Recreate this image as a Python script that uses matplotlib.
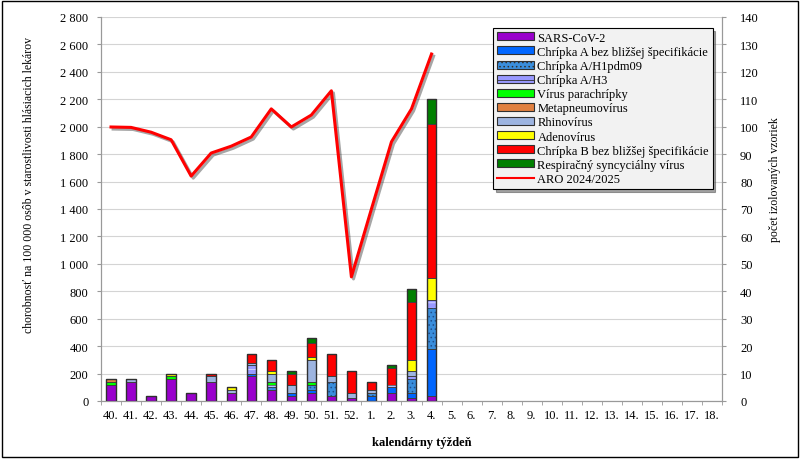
import numpy as np
import matplotlib
matplotlib.use("Agg")
import matplotlib.pyplot as plt
import matplotlib.patheffects as pe
from matplotlib.patches import Patch, Rectangle
from matplotlib.lines import Line2D

plt.rcParams["font.family"] = ["Liberation Serif", "DejaVu Serif"]
plt.rcParams["hatch.linewidth"] = 0.6

# -------------------------
# Data
# -------------------------
weeks = ["40.", "41.", "42.", "43.", "44.", "45.", "46.", "47.", "48.", "49.",
         "50.", "51.", "52.", "1.", "2.", "3.", "4.", "5.", "6.", "7.", "8.",
         "9.", "10.", "11.", "12.", "13.", "14.", "15.", "16.", "17.", "18."]

# ARO 2024/2025 morbidity per 100 000 (left axis), weeks 40. - 4.
aro = [1998, 1995, 1960, 1905, 1640, 1808, 1858, 1925, 2130, 1998,
       2085, 2262, 905, 1400, 1890, 2130, 2530]

# isolated samples per virus (right axis), weeks 40. - 4.
sars = [6, 7, 2, 8, 3, 7, 3, 9, 4, 2, 3, 2, 1, 0, 3, 1, 2]
flu_a = [0, 0, 0, 0, 0, 0, 0, 1, 0, 1, 1, 0, 0, 2, 2, 2, 17]
flu_h1 = [0, 0, 0, 0, 0, 0, 0, 0, 1, 0, 2, 5, 0, 1, 0, 5, 15]
flu_h3 = [0, 0, 0, 0, 0, 0, 0, 3, 1, 0, 0, 0, 0, 0, 1, 1, 3]
parainfl = [1, 0, 0, 1, 0, 0, 0, 0, 1, 0, 1, 0, 0, 0, 0, 0, 0]
metapneumo = [1, 0, 0, 0, 0, 0, 0, 0, 0, 0, 0, 0, 0, 0, 0, 0, 0]
rhino = [0, 1, 0, 0, 0, 2, 1, 1, 3, 3, 8, 2, 2, 1, 0, 2, 0]
adeno = [0, 0, 0, 1, 0, 0, 1, 0, 1, 0, 1, 0, 0, 0, 0, 4, 8]
flu_b = [0, 0, 0, 0, 0, 1, 0, 3, 4, 4, 5, 8, 8, 3, 6, 21, 56]
rsv = [0, 0, 0, 0, 0, 0, 0, 0, 0, 1, 2, 0, 0, 0, 1, 5, 9]

series = [
    ("SARS-CoV-2", sars, "#9900CC", None, None),
    ("Chrípka A bez bližšej špecifikácie", flu_a, "#0066FF", None, None),
    ("Chrípka A/H1pdm09", flu_h1, "#3A8EDC", "....", "#1F4E8C"),
    ("Chrípka A/H3", flu_h3, "#9999FF", "---", "#D8D8FF"),
    ("Vírus parachrípky", parainfl, "#00FF00", None, None),
    ("Metapneumovírus", metapneumo, "#E08040", None, None),
    ("Rhinovírus", rhino, "#9DB4E0", None, None),
    ("Adenovírus", adeno, "#FFFF00", None, None),
    ("Chrípka B bez bližšej špecifikácie", flu_b, "#FF0000", None, None),
    ("Respiračný syncyciálny vírus", rsv, "#008000", None, None),
]

# -------------------------
# Figure
# -------------------------
fig = plt.figure(figsize=(8, 4.6), dpi=100)
ax = fig.add_axes([101 / 800, 1 - 402 / 460, 621 / 800, 384 / 460])
ax2 = ax.twinx()

x = np.arange(len(aro))
bottom = np.zeros(len(x))
width = 0.47
for name, vals, color, hatch, hcolor in series:
    vals = np.array(vals, dtype=float)
    ax.bar(x, vals, width, bottom=bottom, color=color,
           edgecolor="#404040", linewidth=0.7, zorder=3)
    if hatch:
        ax.bar(x, vals, width, bottom=bottom, color="none",
               edgecolor=hcolor, hatch=hatch, linewidth=0, zorder=3.5)
    bottom += vals

# outline of whole stack
ax.bar(x, bottom, width, color="none", edgecolor="#303030",
       linewidth=1.0, zorder=4)

ax.set_ylim(0, 140)
ax.set_yticks(range(0, 141, 10))
ax.yaxis.tick_right()
ax.yaxis.set_label_position("right")
ax.set_ylabel("počet izolovaných vzoriek", fontsize=8.5)
ax.yaxis.set_label_coords((769 - 101) / 621, (402 - 180) / 384)
ax.grid(axis="y", color="#D4D4D4", linewidth=0.8, zorder=0)
ax.set_axisbelow(True)

ax.set_xlim(-0.5, len(weeks) - 0.5)
ax.set_xticks(range(len(weeks)))
ax.set_xticklabels(weeks)
ax.set_xticks(np.arange(-0.5, len(weeks), 1), minor=True)
ax.tick_params(axis="x", which="major", length=0, labelsize=9, pad=6)
ax.tick_params(axis="x", which="minor", length=3, color="#999999")
ax.tick_params(axis="y", length=3, color="#999999", labelsize=9, pad=10)
ax.set_xlabel("kalendárny týždeň", fontsize=9, fontweight="bold")
ax.xaxis.set_label_coords((422 - 101) / 621, -(437 - 402) / 384)

# line on left axis
ax2.plot(x, aro, color="#FF0000", linewidth=2.2, zorder=5,
         path_effects=[pe.SimpleLineShadow(offset=(1.5, -1.5), alpha=0.35),
                       pe.Normal()])
ax2.set_ylim(0, 2800)
ax2.set_yticks(range(0, 2801, 200))
ax2.set_yticklabels([f"{v:,}".replace(",", " ") for v in range(0, 2801, 200)])
ax2.yaxis.tick_left()
ax2.yaxis.set_label_position("left")
ax2.set_ylabel("chorobnosť na 100 000 osôb v starostlivosti hlásiacich lekárov",
               fontsize=8.5)
ax2.yaxis.set_label_coords(-(101 - 35) / 621, (402 - 185) / 384)
ax2.tick_params(axis="y", length=3, color="#999999", labelsize=9, pad=6)

for a in (ax, ax2):
    a.spines["top"].set_visible(False)
    for s in ("left", "right", "bottom"):
        a.spines[s].set_color("#999999")

# legend
handles = []
for name, vals, color, hatch, hcolor in series:
    handles.append(Patch(facecolor=color, edgecolor="#303030",
                         hatch=hatch, linewidth=0.8, label=name))
handles.append(Line2D([0], [0], color="#FF0000", linewidth=1.5,
                      label="ARO 2024/2025"))
leg = ax2.legend(handles=handles, loc="upper left",
                 bbox_to_anchor=((493 - 101) / 621, (402 - 29) / 384),
                 fontsize=9, frameon=True, fancybox=False, shadow=True,
                 labelspacing=0.17, handlelength=3.0, handleheight=0.6,
                 handletextpad=0.25, borderpad=0.3, borderaxespad=0)
leg.get_frame().set_facecolor("#F2F2F2")
leg.get_frame().set_edgecolor("black")
leg.get_frame().set_linewidth(0.8)
leg.set_zorder(10)

# outer border
fig.patches.append(Rectangle((0.003, 0.004), 0.994, 0.992,
                             transform=fig.transFigure, fill=False,
                             edgecolor="black", linewidth=1.0))

fig.savefig("out.png", dpi=100)
